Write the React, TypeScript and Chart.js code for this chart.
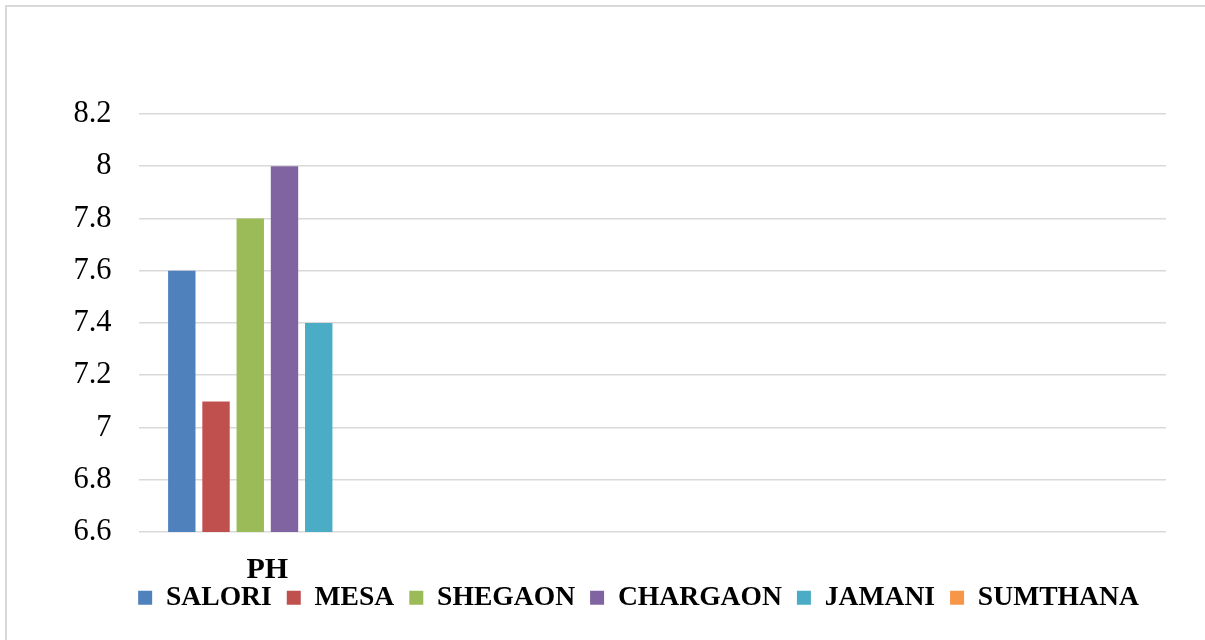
import React, { useEffect, useRef } from "react";
import { Chart, registerables } from "chart.js";

Chart.register(...registerables);

const categories: string[] = ["PH", "", "", ""];

const salori: (number | null)[] = [7.6, null, null, null];
const mesa: (number | null)[] = [7.1, null, null, null];
const shegaon: (number | null)[] = [7.8, null, null, null];
const chargaon: (number | null)[] = [8.0, null, null, null];
const jamani: (number | null)[] = [7.4, null, null, null];
const sumthana: (number | null)[] = [null, null, null, null];

const seriesNames: string[] = ["SALORI", "MESA", "SHEGAON", "CHARGAON", "JAMANI", "SUMTHANA"];
const seriesData = [salori, mesa, shegaon, chargaon, jamani, sumthana];
const seriesColors: string[] = ["#4f81bd", "#c0504d", "#9bbb59", "#8064a2", "#4bacc6", "#f79646"];

const yTicks: number[] = [6.6, 6.8, 7.0, 7.2, 7.4, 7.6, 7.8, 8.0, 8.2];

const FONT = '"Times New Roman", "Liberation Serif", serif';

const legendPlacement = {
  id: "legendPlacement",
  afterLayout(chart: any) {
    const lg = chart.legend;
    if (!lg) return;
    const h = lg.bottom - lg.top;
    lg.left = 111;
    lg.right = 1166;
    lg.top = 569;
    lg.bottom = 569 + h;
  },
};

export default function App() {
  const ref = useRef<HTMLCanvasElement | null>(null);

  useEffect(() => {
    if (!ref.current) return;
    const chart = new Chart(ref.current, {
      type: "bar",
      data: {
        labels: categories,
        datasets: seriesNames.map((name, i) => ({
          label: name,
          data: seriesData[i],
          backgroundColor: seriesColors[i],
          borderColor: seriesColors[i],
          borderWidth: 0,
          barPercentage: 0.8,
          categoryPercentage: 0.8,
        })),
      },
      plugins: [legendPlacement],
      options: {
        responsive: false,
        animation: false,
        layout: { padding: { left: 60, right: 39, top: 114, bottom: 0 } },
        plugins: {
          tooltip: { enabled: false },
          legend: {
            position: "bottom",
            align: "center",
            labels: {
              boxWidth: 14,
              boxHeight: 14,
              padding: 15,
              color: "#000",
              font: { family: FONT, size: 27.6, weight: "bold" },
            },
          },
        },
        scales: {
          x: {
            grid: { display: false, drawTicks: false },
            border: { display: false },
            ticks: {
              color: "#000",
              padding: 20,
              maxRotation: 0,
              autoSkip: false,
              font: { family: FONT, size: 30, weight: "bold" },
            },
            afterFit: (scale: any) => {
              scale.height = 55.4;
            },
          },
          y: {
            min: 6.6,
            max: 8.2,
            grid: { color: "#d9d9d9", lineWidth: 1.6, drawTicks: false },
            border: { display: false },
            afterBuildTicks: (scale: any) => {
              scale.ticks = yTicks.map((v) => ({ value: v }));
            },
            ticks: {
              color: "#000",
              padding: 27.5,
              font: { family: FONT, size: 30.5 },
              callback: (v: any) => String(parseFloat(Number(v).toFixed(1))),
            },
            afterFit: (scale: any) => {
              scale.width = 79;
            },
          },
        },
      },
    });
    return () => chart.destroy();
  }, []);

  return (
    <div
      style={{
        position: "fixed",
        left: 0,
        top: 0,
        width: 1205,
        height: 640,
        overflow: "hidden",
        background: "#fff",
      }}
    >
      <div
        style={{
          position: "absolute",
          left: 5,
          top: 5,
          width: 1220,
          height: 660,
          border: "2px solid #d9d9d9",
          boxSizing: "border-box",
        }}
      />
      <canvas
        ref={ref}
        width={1205}
        height={640}
        style={{ position: "absolute", left: 0, top: 0, width: 1205, height: 640 }}
      />
    </div>
  );
}
